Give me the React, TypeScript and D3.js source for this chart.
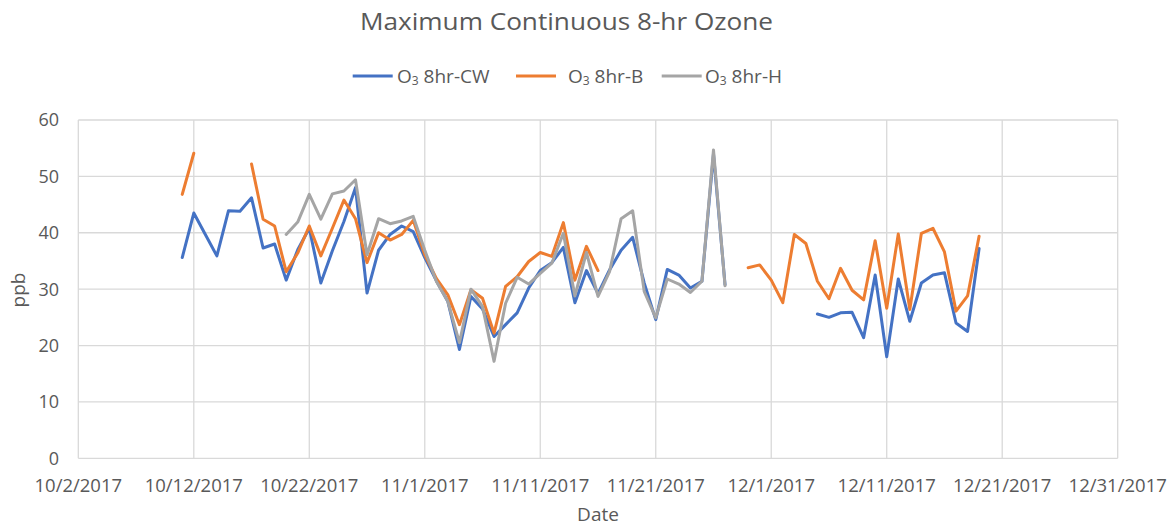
import React from "react";
import * as d3 from "d3";

const TITLE = "Maximum Continuous 8-hr Ozone";
const SERIES_LABELS = ["8hr-CW", "8hr-B", "8hr-H"];
const SERIES_COLORS = ["#4472C4", "#ED7D31", "#A5A5A5"];
const FIRST_DATE = "10/11/2017";
const LAST_DATE = "12/19/2017";

// daily values from 10/11/2017 through 12/19/2017 (null = no data)
const CW: (number | null)[] = [
  35.6, 43.5, 39.7, 35.9, 43.9, 43.8, 46.2, 37.3, 38.0, 31.6,
  37.0, 40.8, 31.1, 36.8, 42.0, 48.0, 29.3, 36.9, 39.7, 41.2,
  40.2, 35.6, 31.5, 27.8, 19.3, 28.7, 26.5, 21.6, 23.7, 25.8,
  30.2, 33.3, 34.7, 37.4, 27.6, 33.3, 29.2, 33.4, 36.9, 39.2,
  31.1, 24.6, 33.5, 32.5, 30.2, 31.4, 54.0, 30.8, null, null,
  null, null, null, null, null, 25.6, 25.0, 25.8, 25.9, 21.4,
  32.5, 18.0, 31.8, 24.3, 31.1, 32.5, 32.9, 24.0, 22.5, 37.2,
];
const B: (number | null)[] = [
  46.8, 54.1, null, null, null, null, 52.2, 42.4, 41.2, 33.1,
  36.4, 41.2, 35.9, 40.8, 45.8, 42.5, 34.7, 40.0, 38.7, 39.7,
  42.2, 36.1, 31.9, 29.0, 23.7, 29.9, 28.4, 22.2, 30.5, 32.2,
  34.9, 36.5, 35.8, 41.8, 31.6, 37.6, 33.3, null, null, null,
  null, null, null, null, null, null, null, null, null, 33.8,
  34.3, 31.6, 27.6, 39.7, 38.1, 31.4, 28.3, 33.7, 29.8, 28.1,
  38.6, 26.6, 39.8, 26.4, 39.9, 40.8, 36.6, 26.1, 28.8, 39.4,
];
const HH: (number | null)[] = [
  null, null, null, null, null, null, null, null, null, 39.7,
  41.9, 46.8, 42.4, 46.9, 47.4, 49.4, 36.1, 42.5, 41.6, 42.1,
  42.9, 36.9, 31.4, 27.8, 20.5, 30.0, 26.9, 17.2, 27.5, 32.1,
  30.9, 32.8, 34.6, 39.9, 28.8, 36.5, 28.7, 33.1, 42.5, 43.9,
  29.6, 24.9, 31.8, 30.9, 29.4, 31.4, 54.7, 30.6, null, null,
  null, null, null, null, null, null, null, null, null, null,
  null, null, null, null, null, null, null, null, null, null,
];

const X_TICKS = [
  "10/2/2017", "10/12/2017", "10/22/2017", "11/1/2017", "11/11/2017",
  "11/21/2017", "12/1/2017", "12/11/2017", "12/21/2017", "12/31/2017",
];
const Y_TICKS = [0, 10, 20, 30, 40, 50, 60];

const FONT = "'Open Sans', 'Noto Sans', sans-serif";
const TEXT = "#595959";
const GRID = "#D9D9D9";

export default function App() {
  const W = 1175;
  const H = 529;
  const left = 78.3, right = 1117.7, top = 120, bottom = 458.3;
  const parse = d3.utcParse("%m/%d/%Y");
  const x = d3
    .scaleUtc()
    .domain([parse(X_TICKS[0])!, parse(X_TICKS[X_TICKS.length - 1])!])
    .range([left, right]);
  const y = d3.scaleLinear().domain([0, 60]).range([bottom, top]);

  const dates = d3.utcDay.range(parse(FIRST_DATE)!, d3.utcDay.offset(parse(LAST_DATE)!, 1));
  const series = [CW, B, HH];

  const line = d3
    .line<[Date, number | null]>()
    .defined((d) => d[1] != null)
    .x((d) => x(d[0]))
    .y((d) => y(d[1] as number));

  const cx = 566.5;
  const legendItems = [
    { lx: 352.7, tx: 397 },
    { lx: 516, tx: 568 },
    { lx: 661.7, tx: 705 },
  ];

  return (
    <svg
      width={W}
      height={H}
      style={{ position: "absolute", left: 0, top: 0, background: "#fff" }}
      fontFamily={FONT}
    >
      <rect x={0} y={0} width={W} height={H} fill="#fff" />
      <text
        x={cx}
        y={30}
        textAnchor="middle"
        fontSize={24.5}
        fill={TEXT}
        textLength={413}
        lengthAdjust="spacingAndGlyphs"
      >
        {TITLE}
      </text>

      {SERIES_LABELS.map((lab, i) => (
        <g key={lab}>
          <line
            x1={legendItems[i].lx}
            x2={legendItems[i].lx + 40}
            y1={76}
            y2={76}
            stroke={SERIES_COLORS[i]}
            strokeWidth={3}
          />
          <text x={legendItems[i].tx} y={83} fontSize={19} fill={TEXT}>
            O
            <tspan fontSize={12} dy={2}>3</tspan>
            <tspan dy={-2}> {lab}</tspan>
          </text>
        </g>
      ))}

      {Y_TICKS.map((t) => (
        <g key={t}>
          <line x1={left} x2={right} y1={y(t)} y2={y(t)} stroke={GRID} strokeWidth={1.3} />
          <text x={59} y={y(t)} dy="0.36em" textAnchor="end" fontSize={18} fill={TEXT}>
            {t}
          </text>
        </g>
      ))}
      {X_TICKS.map((t) => (
        <g key={t}>
          <line x1={x(parse(t)!)} x2={x(parse(t)!)} y1={top} y2={bottom} stroke={GRID} strokeWidth={1.3} />
          <text x={x(parse(t)!)} y={491.5} textAnchor="middle" fontSize={18.5} fill={TEXT}>
            {t}
          </text>
        </g>
      ))}

      {series.map((vals, i) => (
        <path
          key={i}
          d={line(dates.map((d, j) => [d, vals[j]] as [Date, number | null])) || ""}
          fill="none"
          stroke={SERIES_COLORS[i]}
          strokeWidth={3}
          strokeLinejoin="round"
          strokeLinecap="round"
        />
      ))}

      <text x={598} y={521} textAnchor="middle" fontSize={19} fill={TEXT}>
        Date
      </text>
      <text
        transform={`translate(18.5,290) rotate(-90)`}
        textAnchor="middle"
        dy="0.35em"
        fontSize={19}
        fill={TEXT}
      >
        ppb
      </text>
    </svg>
  );
}
